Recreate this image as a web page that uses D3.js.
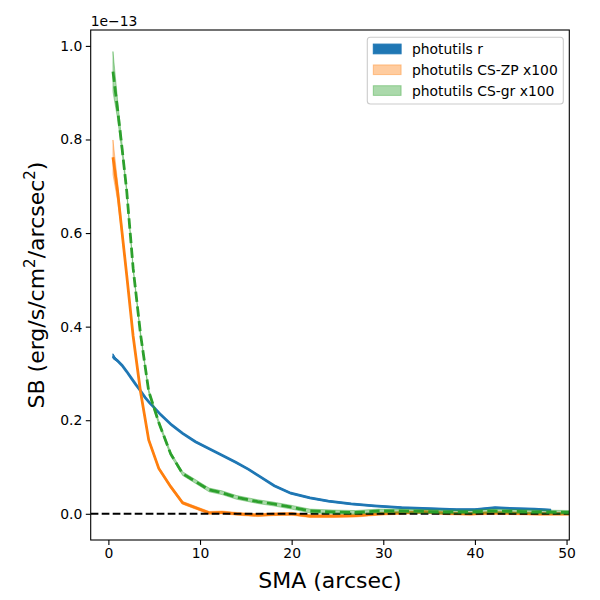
<!DOCTYPE html>
<html><head><meta charset="utf-8">
<script src="https://cdn.jsdelivr.net/npm/d3@7"></script>
<style>body{margin:0;background:#fff}svg{display:block}text{font-family:"DejaVu Sans",sans-serif}</style>
</head><body><svg id="c" width="600" height="600"></svg>
<script>
// photutils r profile (SB in units of 1e-13)
const smaR = [0.5,0.7,1.0,1.5,2.0,2.5,3.0,3.5,4.0,4.5,5.0,5.7,6.9,8.1,9.5,11.0,12.4,13.9,15.3,16.5,18.1,19.9,22.0,24.0,26.5,29.0,32.0,35.0,38.0,40.0,42.2,44.5,46.5,48.3];
const sbR  = [0.337,0.332,0.327,0.317,0.304,0.290,0.276,0.263,0.249,0.237,0.227,0.212,0.190,0.172,0.154,0.139,0.125,0.110,0.095,0.080,0.060,0.044,0.034,0.027,0.021,0.017,0.013,0.011,0.009,0.009,0.013,0.011,0.010,0.008];
const errR = [0.005,0.003,0.002,0.001,0.001,0.001,0.001,0.001,0.001,0.001,0.001,0.001,0.001,0.001,0.001,0.001,0.001,0.001,0.001,0.001,0.001,0.001,0.001,0.001,0.001,0.001,0.001,0.001,0.001,0.001,0.001,0.001,0.001,0.001];
// CS profiles (x100)
const smaCS = [0.5,1.0,1.5,2.0,2.7,3.5,4.4,5.5,6.8,8.1,11.0,12.4,14.0,16.3,18.0,20.0,22.0,24.5,27.0,29.5,32.0,34.5,37.0,39.5,42.0,44.5,47.0,50.5];
const sbZP  = [0.762,0.690,0.600,0.510,0.380,0.262,0.158,0.097,0.058,0.0235,0.002,0.003,0.000,-0.003,-0.001,0.000,-0.005,-0.005,-0.004,0.000,0.002,0.004,0.001,0.000,0.002,0.001,0.000,0.000];
const errZP = [0.037,0.020,0.008,0.004,0.003,0.003,0.003,0.003,0.003,0.003,0.003,0.003,0.003,0.003,0.003,0.003,0.003,0.003,0.003,0.003,0.003,0.003,0.003,0.003,0.003,0.003,0.003,0.003];
const sbGR  = [0.945,0.865,0.780,0.690,0.525,0.385,0.262,0.195,0.128,0.086,0.051,0.045,0.035,0.026,0.021,0.014,0.006,0.004,0.003,0.006,0.006,0.005,0.004,0.004,0.006,0.005,0.004,0.003];
const errGR = [0.043,0.020,0.010,0.005,0.004,0.004,0.004,0.004,0.004,0.004,0.004,0.004,0.004,0.004,0.004,0.004,0.004,0.004,0.004,0.004,0.004,0.004,0.004,0.004,0.004,0.004,0.004,0.004];
const xTicks = [0,10,20,30,40,50];
const yTicks = [0.0,0.2,0.4,0.6,0.8,1.0];
const legendLabels = ["photutils r","photutils CS-ZP x100","photutils CS-gr x100"];

const svg = d3.select("#c");
const L=90.7, R=569.3, T=30, B=540;
const x = d3.scaleLinear().domain([-1.93,50.3]).range([L,R]);
const y = d3.scaleLinear().domain([-0.056,1.034]).range([B,T]);

svg.append("clipPath").attr("id","clip").append("rect").attr("x",L).attr("y",T).attr("width",R-L).attr("height",B-T);
const g = svg.append("g").attr("clip-path","url(#clip)");

function series(sma, sb, err, color, alpha, dash){
  const d = sma.map((s,i)=>({s, v:sb[i], e:err[i]}));
  g.append("path").datum(d)
    .attr("d", d3.area().x(p=>x(p.s)).y0(p=>y(p.v-p.e)).y1(p=>y(p.v+p.e)))
    .attr("fill",color).attr("fill-opacity",alpha).attr("stroke",color).attr("stroke-opacity",alpha).attr("stroke-width",1);
  const ln = g.append("path").datum(d)
    .attr("d", d3.line().x(p=>x(p.s)).y(p=>y(p.v)))
    .attr("fill","none").attr("stroke",color).attr("stroke-width",2.78);
  if(dash) ln.attr("stroke-dasharray",dash);
}
series(smaR, sbR, errR, "#1f77b4", 1, null);
series(smaCS, sbZP, errZP, "#ff7f0e", 0.4, null);
g.append("line").attr("x1",L).attr("x2",R).attr("y1",y(0)).attr("y2",y(0))
  .attr("stroke","#000").attr("stroke-width",2.08).attr("stroke-dasharray","7.7,3.3");
series(smaCS, sbGR, errGR, "#2ca02c", 0.4, "10.3,4.45");

// axes
const xa = svg.append("g").attr("transform",`translate(0,${B})`)
  .call(d3.axisBottom(x).tickValues(xTicks).tickSize(4.9).tickPadding(3.5).tickFormat(d3.format("d")));
const ya = svg.append("g").attr("transform",`translate(${L},0)`)
  .call(d3.axisLeft(y).tickValues(yTicks).tickSize(4.9).tickPadding(3.5).tickFormat(d3.format(".1f")));
[xa,ya].forEach(a=>{
  a.select(".domain").remove();
  a.selectAll(".tick line").attr("stroke","#000").attr("stroke-width",1.1);
  a.selectAll(".tick text").attr("fill","#000").style("font-size","13.9px").style("font-family","DejaVu Sans");
});
svg.append("rect").attr("x",L).attr("y",T).attr("width",R-L).attr("height",B-T)
  .attr("fill","none").attr("stroke","#000").attr("stroke-width",1.1);

svg.append("text").attr("x",L).attr("y",25.5).style("font-size","13.9px").text("1e\u221213");

svg.append("text").attr("x",(L+R)/2).attr("y",588).attr("text-anchor","middle")
  .style("font-size","22px").text("SMA (arcsec)");
const yl = svg.append("text").attr("transform",`translate(44,${(T+B)/2}) rotate(-90)`).attr("text-anchor","middle")
  .style("font-size","22px");
yl.append("tspan").text("SB (erg/s/cm");
yl.append("tspan").attr("dy",-9).style("font-size","15px").text("2");
yl.append("tspan").attr("dy",9).text("/arcsec");
yl.append("tspan").attr("dy",-9).style("font-size","15px").text("2");
yl.append("tspan").attr("dy",9).text(")");

// legend
const lg = svg.append("g");
lg.append("rect").attr("x",367.3).attr("y",37.3).attr("width",196).attr("height",66.7).attr("rx",3)
  .attr("fill","#fff").attr("fill-opacity",0.8).attr("stroke","#cccccc").attr("stroke-width",1.1);
const lcol = [["#1f77b4",1],["#ff7f0e",0.4],["#2ca02c",0.4]];
legendLabels.forEach((t,i)=>{
  const cy = 49 + i*20.8;
  lg.append("rect").attr("x",373.3).attr("y",cy-4.9).attr("width",27.8).attr("height",9.7)
    .attr("fill",lcol[i][0]).attr("fill-opacity",lcol[i][1]).attr("stroke",lcol[i][0]).attr("stroke-opacity",lcol[i][1]);
  lg.append("text").attr("x",412).attr("y",cy+5).style("font-size","13.9px").text(t);
});
</script></body></html>
